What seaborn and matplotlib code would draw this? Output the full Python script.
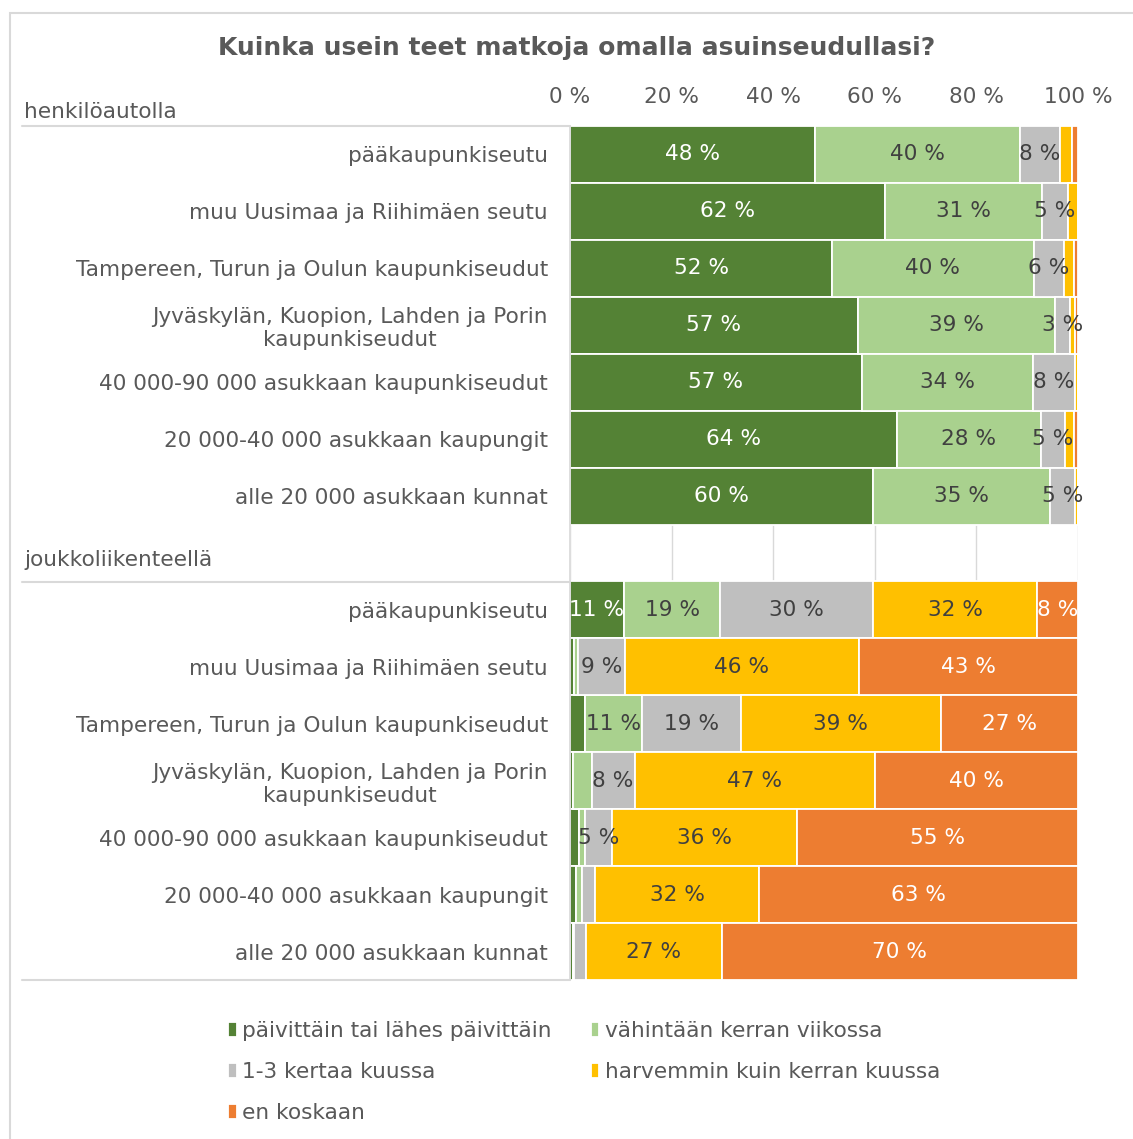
import numpy as np
import matplotlib
matplotlib.use("Agg")
import matplotlib.pyplot as plt
from matplotlib.lines import Line2D
from matplotlib.patches import Rectangle
import seaborn as sns

# categories (same regions for both travel modes)
regions = ["pääkaupunkiseutu",
           "muu Uusimaa ja Riihimäen seutu",
           "Tampereen, Turun ja Oulun kaupunkiseudut",
           "Jyväskylän, Kuopion, Lahden ja Porin\nkaupunkiseudut",
           "40 000-90 000 asukkaan kaupunkiseudut",
           "20 000-40 000 asukkaan kaupungit",
           "alle 20 000 asukkaan kunnat"]
groups = ["henkilöautolla", "joukkoliikenteellä"]
answers = ["päivittäin tai lähes päivittäin", "vähintään kerran viikossa",
           "1-3 kertaa kuussa", "harvemmin kuin kerran kuussa", "en koskaan"]
colors = ["#548235", "#A9D18E", "#BFBFBF", "#FFC000", "#ED7D31"]
xticks = [0, 20, 40, 60, 80, 100]

# shares (%), columns in the order of `answers`
car = [[48.3, 40.2, 8.0, 2.3, 1.2],
       [62.0, 30.9, 5.1, 2.0, 0.0],
       [51.6, 39.7, 6.0, 2.0, 0.7],
       [56.7, 38.8, 3.0, 1.0, 0.5],
       [57.4, 33.8, 8.2, 0.6, 0.0],
       [64.3, 28.4, 4.8, 1.8, 0.7],
       [59.6, 34.8, 5.0, 0.6, 0.0]]
transit = [[10.6, 19.0, 30.0, 32.4, 8.0],
           [0.8, 0.8, 9.2, 46.0, 43.2],
           [3.0, 11.2, 19.4, 39.4, 27.0],
           [0.5, 3.8, 8.4, 47.3, 40.0],
           [1.8, 1.2, 5.2, 36.4, 55.4],
           [1.2, 1.2, 2.6, 32.2, 62.8],
           [0.5, 0.2, 2.4, 26.8, 70.1]]

sns.set_theme(style="white")
plt.rcParams["font.family"] = ["DejaVu Sans"]
txt = "#595959"
line_c = "#D9D9D9"
fs = 15.6

W, H = 1133, 1139
fig = plt.figure(figsize=(W / 100, H / 100), dpi=100)
ax = fig.add_axes([570 / W, 1 - 980 / H, 508 / W, 854 / H])

# rows 0-6 car, row 7 empty, rows 8-14 transit
data = np.array(car + [[0] * 5] + transit)
pos = np.arange(len(data))
labels = regions + [""] + regions

left = np.zeros(len(data))
for k, (name, col) in enumerate(zip(answers, colors)):
    vals = data[:, k]
    ax.barh(pos, vals, left=left, height=1.0, color=col, edgecolor="white",
            linewidth=1.3, label=name, zorder=2)
    for p, v, l in zip(pos, vals, left):
        if v >= 4.5 or (k == 2 and v >= 3):
            c = "white" if k in (0, 4) else "#404040"
            ax.text(l + v / 2, p, f"{round(v):.0f} %", ha="center", va="center",
                    fontsize=fs, color=c, zorder=3)
    left += vals

ax.set_xlim(0, 100)
ax.set_ylim(len(data) - 0.5, -0.5)
ax.set_xticks(xticks)
ax.set_xticklabels([f"{t} %" for t in xticks])
ax.xaxis.tick_top()
ax.tick_params(axis="x", length=0, pad=14, labelsize=fs, labelcolor=txt)
ax.set_yticks(pos)
ax.set_yticklabels(labels, multialignment="center")
ax.tick_params(axis="y", length=0, pad=16, labelsize=fs, labelcolor=txt)
ax.grid(axis="x", color=line_c, linewidth=1, zorder=0)
ax.set_axisbelow(True)
for s in ["top", "right", "bottom"]:
    ax.spines[s].set_visible(False)
ax.spines["left"].set_color(line_c)

# group separators and group labels
for y in [126, 582, 980]:
    fig.add_artist(Line2D([22 / W, 570 / W], [1 - y / H, 1 - y / H],
                          color=line_c, linewidth=1.5, transform=fig.transFigure))
fig.text(24 / W, 1 - 112 / H, groups[0], ha="left", va="center", fontsize=fs, color=txt)
fig.text(24 / W, 1 - 560 / H, groups[1], ha="left", va="center", fontsize=fs, color=txt)

fig.text(577 / W, 1 - 48 / H, "Kuinka usein teet matkoja omalla asuinseudullasi?",
         ha="center", va="center", fontsize=18, fontweight="bold", color=txt)

# legend, filled row by row
h, l = ax.get_legend_handles_labels()
order = [0, 2, 4, 1, 3]
leg = fig.legend([h[i] for i in order], [l[i] for i in order], ncol=2,
                 loc="upper left", bbox_to_anchor=(228 / W, 1 - 1021 / H),
                 frameon=False, fontsize=fs, handlelength=0.4, handleheight=0.7,
                 handletextpad=0.25, columnspacing=1.8, labelspacing=0.97,
                 borderpad=0, borderaxespad=0)
for t in leg.get_texts():
    t.set_color(txt)

fig.add_artist(Rectangle((10 / W, -0.1), 1.2, 1.1 - 13 / H, transform=fig.transFigure,
                         fill=False, edgecolor=line_c, linewidth=1.5))

fig.savefig("out.png", dpi=100)
